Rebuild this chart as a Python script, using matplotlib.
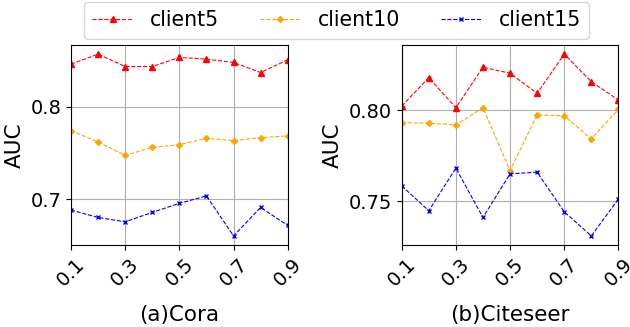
import numpy as np
from matplotlib import pyplot as plt

x = [0.1, 0.2, 0.3, 0.4, 0.5, 0.6, 0.7, 0.8, 0.9]
xticks = [0.1, 0.3, 0.5, 0.7, 0.9]

# Cora
cora5 = [0.8462, 0.8571, 0.8436, 0.8436, 0.8535, 0.8516, 0.8480, 0.8371, 0.8509]
cora10 = [0.7742, 0.7618, 0.7473, 0.7560, 0.7589, 0.7658, 0.7633, 0.7665, 0.7684]
cora15 = [0.6880, 0.6800, 0.6753, 0.6855, 0.6953, 0.7033, 0.6600, 0.6909, 0.6713]
cora_yticks = [0.7, 0.8]

# Citeseer
cite5 = [0.8022, 0.8178, 0.8013, 0.8235, 0.8202, 0.8092, 0.8307, 0.8156, 0.8055]
cite10 = [0.7932, 0.7928, 0.7919, 0.8013, 0.7669, 0.7974, 0.7969, 0.7842, 0.8004]
cite15 = [0.7585, 0.7449, 0.7682, 0.7412, 0.7651, 0.7660, 0.7443, 0.7311, 0.7513]
cite_yticks = [0.75, 0.80]

fig = plt.figure(figsize=(6.3, 3.27), dpi=100)
ax1 = fig.add_axes([0.1127, 0.2508, 0.344, 0.6116])
ax2 = fig.add_axes([0.6376, 0.2508, 0.344, 0.6116])

for ax, d5, d10, d15, yt, fmt, name in [
        (ax1, cora5, cora10, cora15, cora_yticks, "{:.1f}", "(a)Cora"),
        (ax2, cite5, cite10, cite15, cite_yticks, "{:.2f}", "(b)Citeseer")]:
    ax.plot(x, d5, color="red", linestyle="--", linewidth=0.8, marker="^", markersize=4, label="client5")
    ax.plot(x, d10, color="orange", linestyle="--", linewidth=0.8, marker="D", markersize=3, label="client10")
    ax.plot(x, d15, color="blue", linestyle="--", linewidth=0.8, marker="x", markersize=3.5, label="client15")
    ax.set_xlim(0.1, 0.9)
    ax.set_xticks(xticks)
    ax.set_xticklabels([str(t) for t in xticks], rotation=45, fontsize=14)
    ax.set_yticks(yt)
    ax.set_yticklabels([fmt.format(t) for t in yt], fontsize=14)
    ax.grid(True, color="#b0b0b0", linewidth=0.8)
    ax.set_ylabel("AUC", fontsize=15.5)
    ax.set_xlabel(name, fontsize=15.5, labelpad=11)

h, l = ax1.get_legend_handles_labels()
fig.legend(h, l, loc="upper center", bbox_to_anchor=(0.534, 1.0), ncol=3,
           fontsize=14.8, borderaxespad=0.1)

plt.savefig("out.png", dpi=100)
